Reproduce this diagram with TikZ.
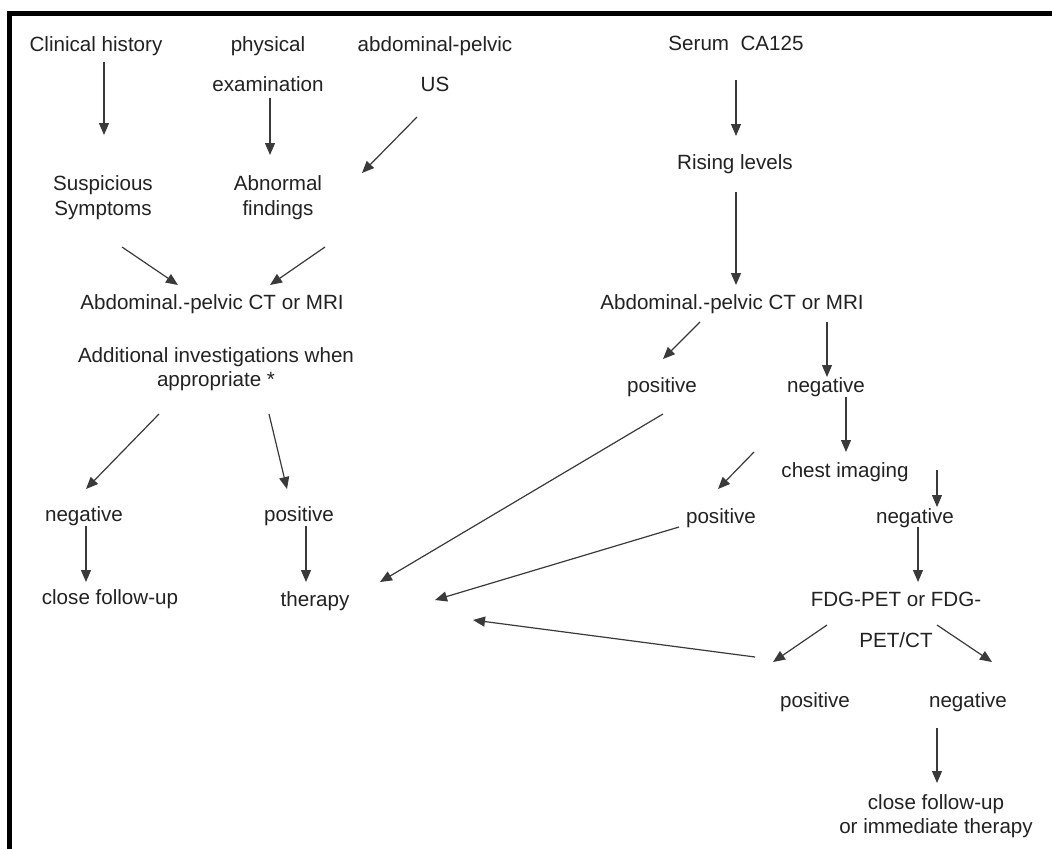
\documentclass[tikz,border=0pt]{standalone}
\usepackage{fontspec}
\setmainfont{Liberation Sans}
\usetikzlibrary{arrows.meta,calc}
\definecolor{ink}{HTML}{222222}
\definecolor{wire}{HTML}{3A3A3A}
\begin{document}
\begin{tikzpicture}[x=1pt,y=-1pt,
  lbl/.style={inner sep=0pt, text=ink, font=\fontsize{20.6pt}{24.5pt}\selectfont, text height=14.4pt, text depth=4.1pt},
  lbl2/.style={inner sep=0pt, text=ink, align=center, font=\fontsize{20.6pt}{24.5pt}\selectfont},
  wide/.style={font=\fontsize{20.6pt}{40.5pt}\selectfont},
  arr/.style={draw=wire, line width=1.2pt, -{Triangle[length=12pt,width=10pt]}},
  ]
\useasboundingbox (0,0) rectangle (1052,849);
\fill[white] (0,0) rectangle (1052,849);
% frame
\fill[black] (7,11) rectangle (1052,16);
\fill[black] (7,11) rectangle (12,849);

% left branch
\node[lbl] (ch) at (96,46) {Clinical history};
\node[lbl2,wide] (pe) at (268,64) {physical\\examination};
\node[lbl2,wide] (us) at (435,64) {abdominal-pelvic\\US};
\node[lbl2] (ss) at (103,197.5) {Suspicious\\Symptoms};
\node[lbl2] (af) at (278,197.5) {Abnormal\\findings};
\node[lbl] (ct1) at (212,304) {Abdominal.-pelvic CT or MRI};
\node[lbl2] (ai) at (216,369) {Additional investigations when\\appropriate *};
\node[lbl] (neg1) at (84,516) {negative};
\node[lbl] (pos1) at (299,516) {positive};
\node[lbl] (cf1) at (110,599) {close follow-up};
\node[lbl] (th) at (315,601) {therapy};

% right branch
\node[lbl] (sc) at (736,45) {Serum\ \ CA125};
\node[lbl] (rl) at (735,164) {Rising levels};
\node[lbl] (ct2) at (732,304) {Abdominal.-pelvic CT or MRI};
\node[lbl] (pos2) at (662,387) {positive};
\node[lbl] (neg2) at (826,387) {negative};
\node[lbl] (chi) at (845,472) {chest imaging};
\node[lbl] (pos3) at (721,518) {positive};
\node[lbl] (neg3) at (915,518) {negative};
\node[lbl2,wide] (fdg) at (896,620) {FDG-PET or FDG-\\PET/CT};
\node[lbl] (pos4) at (815,702) {positive};
\node[lbl] (neg4) at (968,702) {negative};
\node[lbl2] (cf2) at (936,816) {close follow-up\\or immediate therapy};

% connectors left
\draw[arr] ($(ch)+(8,16)$) -- ($(ss)+(1,-62.5)$);
\draw[arr] ($(pe)+(2,34)$) -- ($(af)+(-8,-42.5)$);
\draw[arr] ($(us)+(-18,53)$) -- ($(af)+(84,-24.5)$);
\draw[arr] ($(ss)+(19,49.5)$) -- ($(ct1)+(-34,-19)$);
\draw[arr] ($(af)+(47,49.5)$) -- ($(ct1)+(58,-19)$);
\draw[arr] ($(ai)+(-57,45)$) -- ($(neg1)+(2,-27)$);
\draw[arr] ($(ai)+(53,45)$) -- ($(pos1)+(-12,-27)$);
\draw[arr] ($(neg1)+(2,10)$) -- ($(cf1)+(-24,-17)$);
\draw[arr] ($(pos1)+(7,10)$) -- ($(th)+(-9,-19)$);

% connectors right
\draw[arr] ($(sc)+(0,35)$) -- ($(rl)+(1,-28)$);
\draw[arr] ($(rl)+(1,28)$) -- ($(ct2)+(4,-19)$);
\draw[arr] ($(ct2)+(-32,18)$) -- ($(pos2)+(1,-28)$);
\draw[arr] ($(ct2)+(95,18)$) -- ($(neg2)+(1,-10)$);
\draw[arr] ($(pos2)+(1,27)$) -- ($(th)+(65,-19)$);
\draw[arr] ($(neg2)+(20,10)$) -- ($(chi)+(1,-20)$);
\draw[arr] ($(chi)+(-91,-20)$) -- ($(pos3)+(-3,-29)$);
\draw[arr] ($(chi)+(92,-2)$) -- ($(neg3)+(22,-11)$);
\draw[arr] ($(pos3)+(-42,9)$) -- ($(th)+(120,-1)$);
\draw[arr] ($(neg3)+(3,9)$) -- ($(fdg)+(22,-38)$);
\draw[arr] ($(fdg)+(-69,5)$) -- ($(pos4)+(-42,-40)$);
\draw[arr] ($(fdg)+(41,5)$) -- ($(neg4)+(24,-40)$);
\draw[arr] ($(pos4)+(-60,-45)$) -- ($(th)+(158,19)$);
\draw[arr] ($(neg4)+(-31,26)$) -- ($(cf2)+(1,-33)$);
\end{tikzpicture}
\end{document}
